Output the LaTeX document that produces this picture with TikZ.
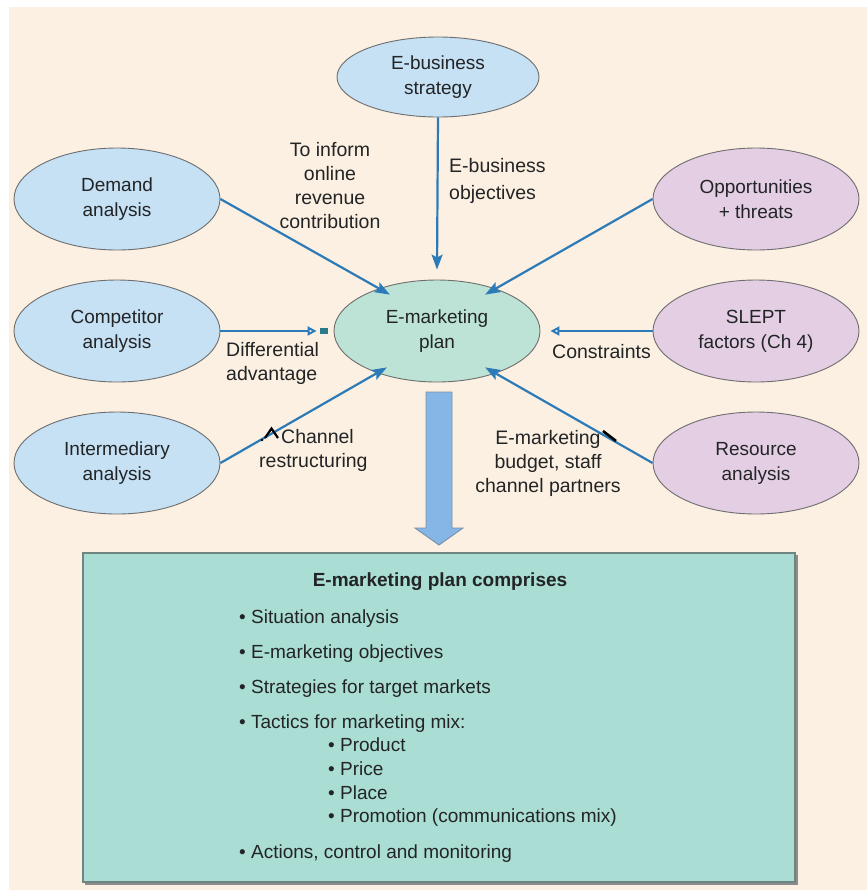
\documentclass[tikz,border=0pt]{standalone}
\usepackage{fontspec}
\setmainfont{Liberation Sans}
\usetikzlibrary{arrows.meta,shapes.geometric,calc}

\definecolor{cream}{HTML}{FBF0E1}
\definecolor{bluefill}{HTML}{C6E0F4}
\definecolor{purplefill}{HTML}{E4CEE4}
\definecolor{planfill}{HTML}{BCE3D5}
\definecolor{boxfill}{HTML}{AADDD3}
\definecolor{boxline}{HTML}{6F8580}
\definecolor{ovalline}{HTML}{6E6E6E}
\definecolor{flowblue}{HTML}{2C7BB8}
\definecolor{bigarrow}{HTML}{86B6E6}
\definecolor{bigarrowline}{HTML}{7A8FA6}
\definecolor{ink}{HTML}{222426}
\definecolor{markteal}{HTML}{2A7A8C}

\begin{document}
\begin{tikzpicture}[x=1pt,y=-1pt,
  oval/.style={ellipse, draw=ovalline, line width=0.9pt,
    minimum width=206pt, minimum height=102pt, inner sep=0pt,
    align=center, text=ink, font=\fontsize{19}{25}\selectfont},
  blueoval/.style={oval, fill=bluefill},
  purpleoval/.style={oval, fill=purplefill},
  flow/.style={draw=flowblue, line width=2.2pt,
    -{Stealth[length=15pt,width=11pt,inset=3pt]}},
  openflow/.style={draw=flowblue, line width=2pt,
    -{Triangle[open,length=9pt,width=9pt,fill=white]}},
  lbl/.style={text=ink, inner sep=0pt, font=\fontsize{19.5}{24}\selectfont},
  item/.style={anchor=base west, text=ink, inner sep=0pt,
    font=\fontsize{19}{23}\selectfont}
]
\useasboundingbox (0,0) rectangle (867,895);
\fill[white] (0,0) rectangle (867,895);
\fill[cream] (9,7) rectangle (867,890);

% surrounding analyses and the central plan
\node[blueoval, minimum width=202pt, minimum height=80pt] (ebs) at (438,77) {E-business\\strategy};
\node[blueoval] (demand) at (117,199) {Demand\\analysis};
\node[blueoval] (comp) at (117,331) {Competitor\\analysis};
\node[blueoval] (inter) at (117,463) {Intermediary\\analysis};
\node[purpleoval] (opp) at (756,199) {Opportunities\\+ threats};
\node[purpleoval] (slept) at (756,331) {SLEPT\\factors (Ch 4)};
\node[purpleoval] (res) at (756,463) {Resource\\analysis};
\node[oval, fill=planfill] (plan) at (437,331) {E-marketing\\plan};

% arrow end points around the plan
\coordinate (tipN) at ([yshift=10pt]plan.north);
\coordinate (tipNW) at ([xshift=26pt]plan.north west);
\coordinate (tipNE) at ([xshift=-25pt]plan.north east);
\coordinate (tipSW) at ([xshift=23pt]plan.south west);
\coordinate (tipSE) at ([xshift=-25pt]plan.south east);
\coordinate (tipW) at ([xshift=-17pt]plan.west);
\coordinate (tipE) at ([xshift=10pt]plan.east);

\draw[flow] (ebs.south) -- (tipN);
\draw[flow] (demand.east) -- (tipNW);
\draw[flow] (opp.west) -- (tipNE);
\draw[flow] (inter.east) -- (tipSW);
\draw[flow] (res.west) -- (tipSE);
\draw[openflow] (comp.east) -- (tipW);
\fill[markteal] ([xshift=-14pt,yshift=3pt]plan.west) rectangle ([xshift=-6pt,yshift=-3pt]plan.west);
\draw[openflow] (slept.west) -- (tipE);

% connector labels
\node[lbl, align=center] (lInform) at (330,186) {To inform\\online\\revenue\\contribution};
\node[lbl, align=left, anchor=west, font=\fontsize{19.5}{27}\selectfont] (lObj) at (449,181) {E-business\\objectives};
\node[lbl, align=left, anchor=west] (lDiff) at (226,363) {Differential\\advantage};
\node[lbl, anchor=west] (lCons) at (552,352) {Constraints};
\node[lbl, align=left, anchor=west] (lChan) at (259,450) {\hspace*{22pt}Channel\\restructuring};
\draw[black, line width=2.2pt, line join=miter] (265,438) -- (271.5,428.5) -- (278,438);
\fill[black] (262,440) circle (1.4pt);
\node[lbl, align=center] (lBudget) at (548,463) {E-marketing\\budget, staff\\channel partners};
\draw[black, line width=2.6pt] (603,431) -- (616,441);

% block arrow and summary box
\fill[black!45] (85,555) rectangle (798,885);
\node[draw=boxline, fill=boxfill, line width=1.2pt, minimum width=712pt,
  minimum height=329pt, inner sep=0pt] (box) at (439,717.5) {};
\draw[bigarrowline, fill=bigarrow, line width=0.9pt]
  (426,392) -- (452,392) -- (452,528) -- (463,528) -- (439,545)
  -- (415,528) -- (426,528) -- cycle;

\node[text=ink, inner sep=0pt, font=\bfseries\fontsize{19}{23}\selectfont] (title) at (440,582) {E-marketing plan comprises};
\node[item] (i1) at (239,623) {• Situation analysis};
\node[item] (i2) at (239,658) {• E-marketing objectives};
\node[item] (i3) at (239,693) {• Strategies for target markets};
\node[item] (i4) at (239,728) {• Tactics for marketing mix:};
\node[item] (i5) at (328,751) {• Product};
\node[item] (i6) at (328,775) {• Price};
\node[item] (i7) at (328,799) {• Place};
\node[item] (i8) at (328,822) {• Promotion (communications mix)};
\node[item] (i9) at (239,858) {• Actions, control and monitoring};
\end{tikzpicture}
\end{document}
